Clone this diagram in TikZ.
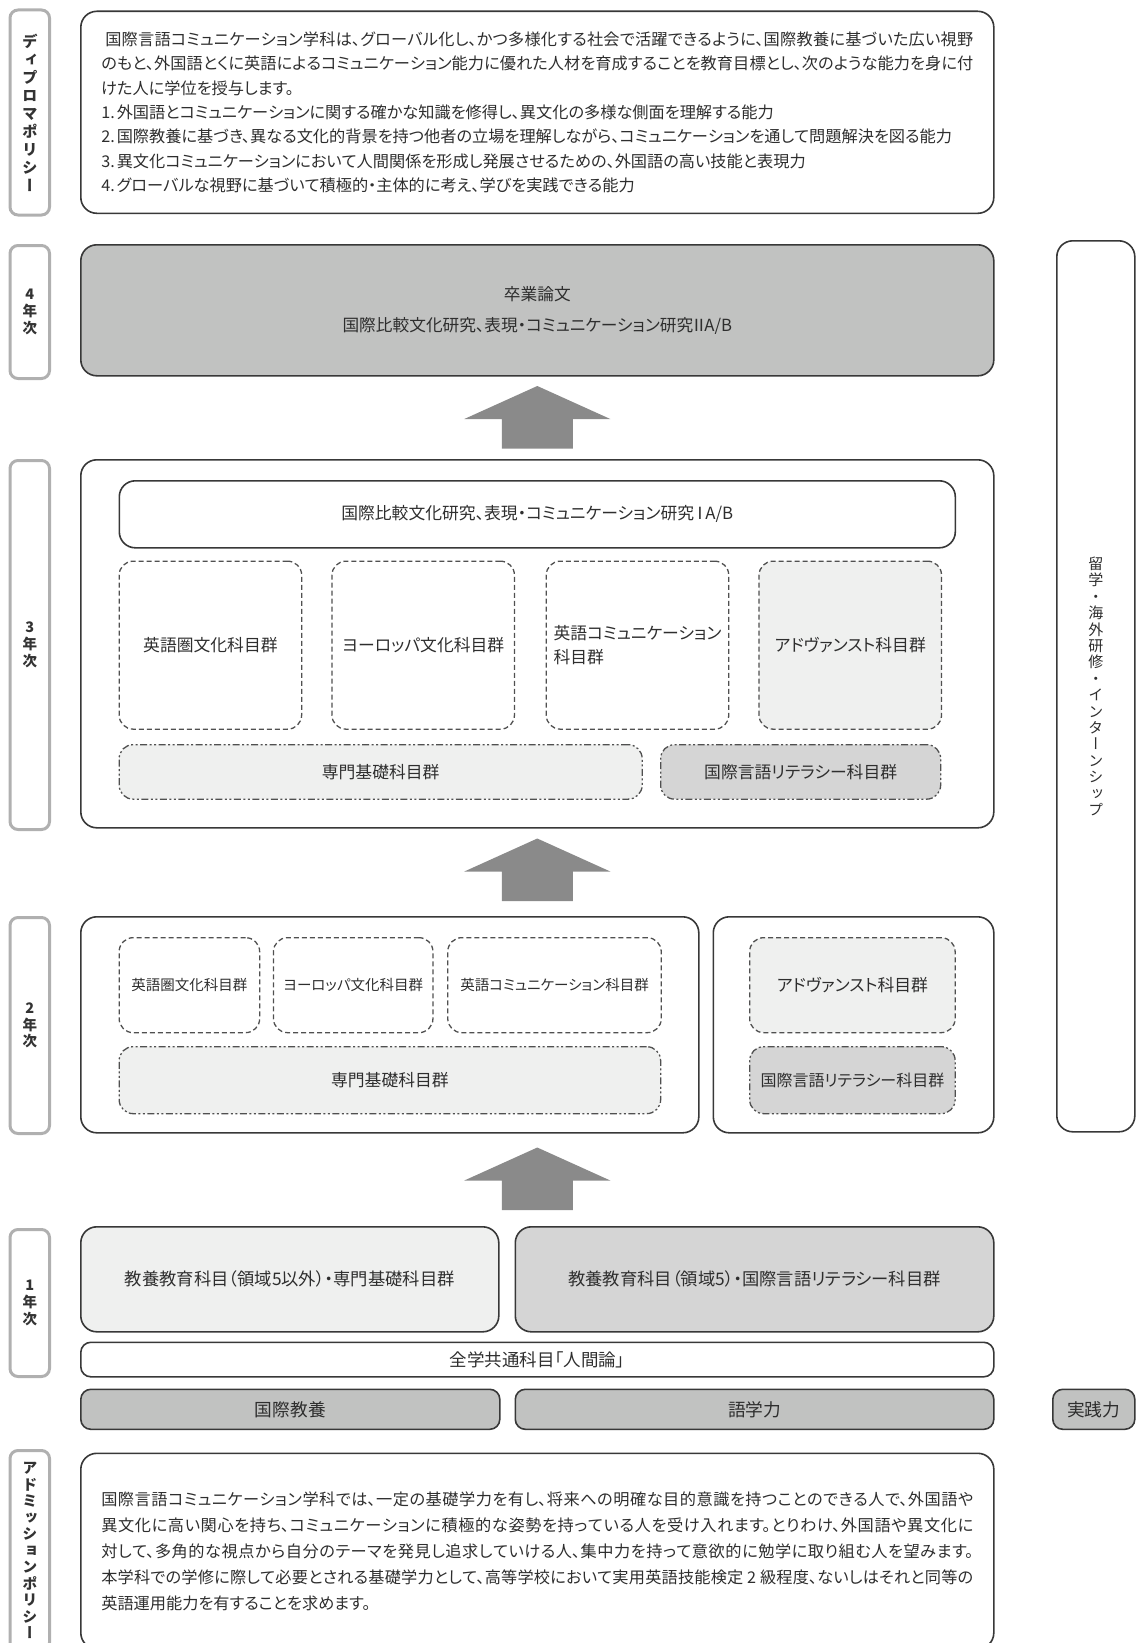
\documentclass[tikz,border=0pt]{standalone}
\usepackage{fontspec}
\setmainfont{Noto Sans CJK JP}[RawFeature=+palt]
\newfontfamily\tatefont{Noto Sans CJK JP}[RawFeature=+vert]
\XeTeXlinebreaklocale "ja"
\XeTeXlinebreakskip=0pt plus 2pt
\usepackage{tikz}
\usetikzlibrary{positioning,calc}
\definecolor{linedark}{HTML}{383838}
\definecolor{textdark}{HTML}{2E2E2E}
\definecolor{labelgray}{HTML}{B0B0B0}
\definecolor{labeltext}{HTML}{333333}
\definecolor{dashgray}{HTML}{505050}
\definecolor{fillA}{HTML}{C1C2C1}
\definecolor{fillB}{HTML}{D5D5D5}
\definecolor{fillC}{HTML}{EFF0EF}
\definecolor{arrowgray}{HTML}{8A8A8A}
\tikzstyle{sidelabel} = [
    rectangle, rounded corners=8pt, draw=labelgray, line width=3pt,
    minimum width=39.5pt, inner sep=0pt, align=center, anchor=north west,
    text=labeltext, font=\tatefont\bfseries\fontsize{14.5}{16.8}\selectfont]
\tikzstyle{mainbox} = [
    rectangle, rounded corners=16pt, draw=linedark, line width=1.6pt,
    inner sep=0pt, align=center, anchor=north west, text=textdark,
    font=\fontsize{16.8}{24}\selectfont]
\tikzstyle{groupbox} = [
    mainbox, draw=dashgray, line width=1.3pt, rounded corners=14pt,
    dash pattern=on 5pt off 3pt]
\tikzstyle{basebox} = [
    groupbox, dash pattern=on 7pt off 2.5pt on 2pt off 2.5pt on 2pt off 2.5pt]
\tikzstyle{smalltext} = [font=\fontsize{14.5}{24}\selectfont]
\tikzstyle{policytext} = [
    text width=872pt, align=justify, font=\fontsize{16.2}{24.4}\selectfont]
\tikzset{uparrow/.pic={
    \fill[arrowgray] (-35.5,0) -- (-35.5,-29.5) -- (-73,-29.5) -- (0,-62.5)
        -- (73,-29.5) -- (35.5,-29.5) -- (35.5,0) -- cycle;}}

\begin{document}
\begin{tikzpicture}[x=1pt, y=-1pt]
\useasboundingbox (0,0) rectangle (1136,1643);
\clip (0,0) rectangle (1136,1643);

% diploma policy
\node (diploma-label) [sidelabel, minimum height=205pt,
    font=\tatefont\bfseries\fontsize{15.5}{18}\selectfont] at (8.5,8.5)
    {デ\\ィ\\プ\\ロ\\マ\\ポ\\リ\\シ\\ー};
\node (diploma-text) [mainbox, policytext, minimum width=913pt, minimum height=202pt] at (80,10.5) {
    \hspace{4pt}国際言語コミュニケーション学科は、グローバル化し、かつ多様化する社会で活躍できるように、国際教養に基づいた広い視野\linebreak
    のもと、外国語とくに英語によるコミュニケーション能力に優れた人材を育成することを教育目標とし、次のような能力を身に付\linebreak
    けた人に学位を授与します。\newline
    1.\hspace{2pt}外国語とコミュニケーションに関する確かな知識を修得し、異文化の多様な側面を理解する能力\newline
    2.\hspace{2pt}国際教養に基づき、異なる文化的背景を持つ他者の立場を理解しながら、コミュニケーションを通して問題解決を図る能力\newline
    3.\hspace{2pt}異文化コミュニケーションにおいて人間関係を形成し発展させるための、外国語の高い技能と表現力\newline
    4.\hspace{2pt}グローバルな視野に基づいて積極的・主体的に考え、学びを実践できる能力
};

% 4th year
\node (year4-label) [sidelabel, minimum height=133pt] at (8.5,244) {4\\年\\次};
\node (year4-box) [mainbox, fill=fillA, minimum width=913pt, minimum height=131pt,
    font=\fontsize{16.7}{31.5}\selectfont] at (80,244) {
    卒業論文\\
    国際比較文化研究、表現・コミュニケーション研究\kern-2.5pt Ⅱ\kern-3pt A/B
};

% 3rd year
\node (year3-label) [sidelabel, minimum height=369pt] at (8.5,459) {3\\年\\次};
\node (year3-box) [mainbox, minimum width=913pt, minimum height=368pt] at (80,459) {};
\node (year3-study) [mainbox, minimum width=836pt, minimum height=67pt] at (118.5,480)
    {国際比較文化研究、表現・コミュニケーション研究\kern-2.5pt Ⅰ\kern-3pt A/B};
\node (year3-anglo) [groupbox, minimum width=182.5pt, minimum height=168pt] at (118.5,560.5)
    {英語圏文化科目群};
\node (year3-europe) [groupbox, minimum width=182.5pt, minimum height=168pt,
    right=29pt of year3-anglo] {ヨーロッパ文化科目群};
\node (year3-comm) [groupbox, minimum width=182.5pt, minimum height=168pt,
    align=left, right=30.5pt of year3-europe] {英語コミュニケーション\\科目群};
\node (year3-adv) [groupbox, fill=fillC, minimum width=182.5pt, minimum height=168pt,
    right=29pt of year3-comm] {アドヴァンスト科目群};
\node (year3-base) [basebox, fill=fillC, minimum width=523pt, minimum height=54.5pt] at (118.5,744)
    {専門基礎科目群};
\node (year3-lit) [basebox, fill=fillB, minimum width=280pt, minimum height=54.5pt] at (660,744)
    {国際言語リテラシー科目群};

% 2nd year
\node (year2-label) [sidelabel, minimum height=216pt] at (8.5,916) {2\\年\\次};
\node (year2-main) [mainbox, minimum width=618pt, minimum height=216pt] at (80,916) {};
\node (year2-side) [mainbox, minimum width=280.5pt, minimum height=216pt] at (712.5,916) {};
\node (year2-anglo) [groupbox, smalltext, minimum width=140.5pt, minimum height=95pt] at (118.5,937)
    {英語圏文化科目群};
\node (year2-europe) [groupbox, smalltext, minimum width=159.5pt, minimum height=95pt,
    right=12.5pt of year2-anglo] {ヨーロッパ文化科目群};
\node (year2-comm) [groupbox, smalltext, minimum width=213.5pt, minimum height=95pt,
    right=13.5pt of year2-europe] {英語コミュニケーション科目群};
\node (year2-base) [basebox, fill=fillC, minimum width=541.5pt, minimum height=67pt] at (118.5,1046)
    {専門基礎科目群};
\node (year2-adv) [groupbox, fill=fillC, minimum width=205.5pt, minimum height=95pt] at (749,937)
    {アドヴァンスト科目群};
\node (year2-lit) [basebox, fill=fillB, minimum width=205.5pt, minimum height=67pt,
    font=\fontsize{16}{24}\selectfont] at (749,1046) {国際言語リテラシー科目群};

% study abroad
\node (abroad-box) [mainbox, minimum width=78pt, minimum height=891pt,
    font=\tatefont\fontsize{15}{16.4}\selectfont] at (1056,240)
    {留\\学\\・\\海\\外\\研\\修\\・\\イ\\ン\\タ\\ー\\ン\\シ\\ッ\\プ};

% 1st year
\node (year1-label) [sidelabel, minimum height=147pt] at (8.5,1228) {1\\年\\次};
\node (year1-general) [mainbox, fill=fillC, minimum width=418pt, minimum height=105pt,
    font=\fontsize{17.3}{24}\selectfont] at (80,1226)
    {教養教育科目（領域5以外）・専門基礎科目群};
\node (year1-lang) [mainbox, fill=fillB, minimum width=478.5pt, minimum height=105pt,
    font=\fontsize{17.3}{24}\selectfont] at (514.5,1226)
    {教養教育科目（領域5）・国際言語リテラシー科目群};
\node (year1-common) [mainbox, rounded corners=10pt, minimum width=913pt, minimum height=34.5pt,
    font=\fontsize{17.5}{24}\selectfont] at (80,1341.5)
    {全学共通科目「人間論」};

% abilities
\tikzstyle{skillbox} = [mainbox, fill=fillA, rounded corners=10pt, minimum height=40pt,
    font=\fontsize{17.7}{24}\selectfont]
\node (skill-culture) [skillbox, minimum width=419pt] at (80,1388.5) {国際教養};
\node (skill-lang) [skillbox, minimum width=478.5pt] at (514.5,1388.5) {語学力};
\node (skill-practice) [skillbox, minimum width=82pt] at (1052,1388.5) {実践力};

% admission policy
\node (admission-label) [sidelabel, minimum height=200pt,
    font=\tatefont\bfseries\fontsize{15}{16.5}\selectfont] at (8.5,1449)
    {ア\\ド\\ミ\\ッ\\シ\\ョ\\ン\\ポ\\リ\\シ\\ー};
\node (admission-text) [mainbox, policytext, minimum width=913pt, minimum height=195.5pt,
    font=\fontsize{16.2}{25.9}\selectfont] at (80,1452.5) {
    国際言語コミュニケーション学科では、一定の基礎学力を有し、将来への明確な目的意識を持つことのできる人で、外国語や\linebreak
    異文化に高い関心を持ち、コミュニケーションに積極的な姿勢を持っている人を受け入れます。とりわけ、外国語や異文化に\linebreak
    対して、多角的な視点から自分のテーマを発見し追求していける人、集中力を持って意欲的に勉学に取り組む人を望みます。\linebreak
    本学科での学修に際して必要とされる基礎学力として、高等学校において実用英語技能検定 2 級程度、ないしはそれと同等の\linebreak
    英語運用能力を有することを求めます。
};

% arrows between the years
\pic at ($(year3-box.north)+(0,-10.5)$) {uparrow};
\pic at ($(year3-box.south |- year2-main.north)+(0,-15)$) {uparrow};
\pic at ($(year3-box.south |- year1-general.north)+(0,-16)$) {uparrow};
\end{tikzpicture}
\end{document}
